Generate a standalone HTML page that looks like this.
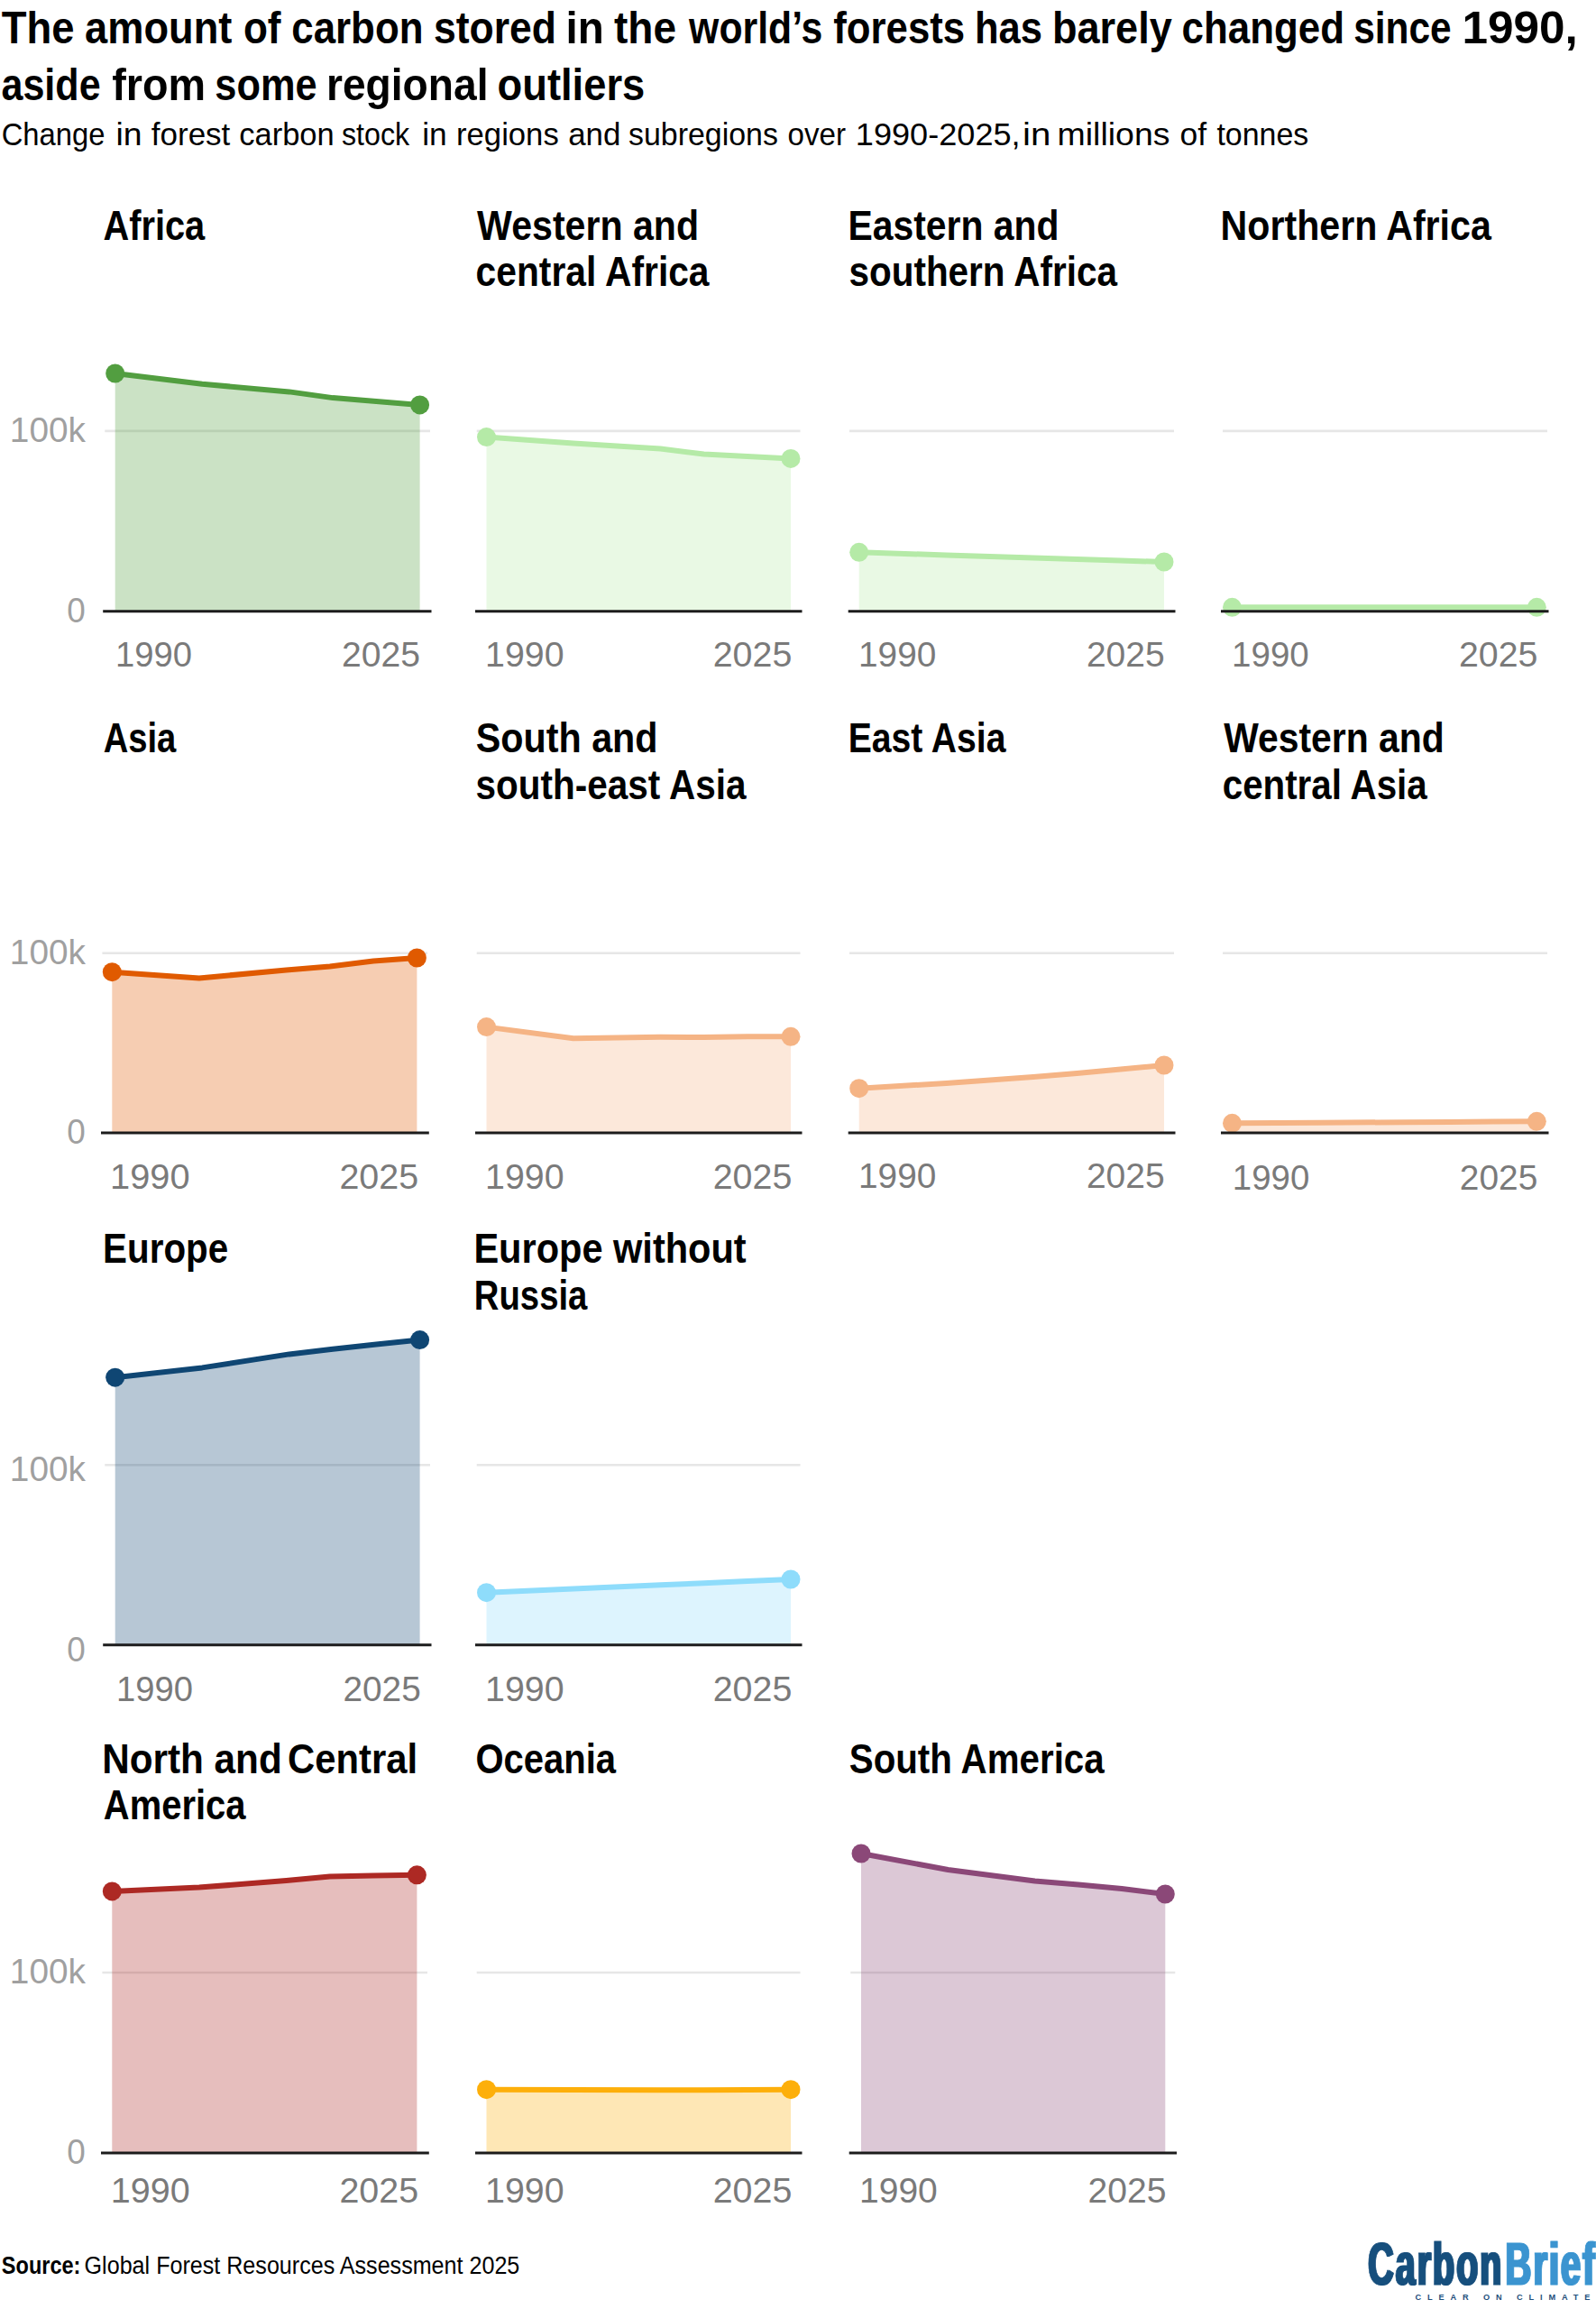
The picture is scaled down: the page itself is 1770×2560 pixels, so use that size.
<!DOCTYPE html>
<html lang="en"><head><meta charset="utf-8"><title>Forest carbon stock by region, 1990-2025</title>
<style>html,body{margin:0;padding:0;background:#fff}svg{display:block}text{font-family:"Liberation Sans", Arial, sans-serif;white-space:pre}</style></head><body>
<svg width="1770" height="2560" viewBox="0 0 1770 2560">
<rect width="1770" height="2560" fill="#fff"/>
<g>
<line x1="116.3" x2="477.0" y1="477.9" y2="477.9" stroke="#e6e6e6" stroke-width="2.6"/>
<path d="M127.7,414.0 L224.2,425.8 L320.8,434.4 L369.1,441.1 L417.3,445.1 L465.6,448.9 L465.6,677.8 L127.7,677.8 Z" fill="#529e40" fill-opacity="0.3"/>
<path d="M127.7,414.0 L224.2,425.8 L320.8,434.4 L369.1,441.1 L417.3,445.1 L465.6,448.9" fill="none" stroke="#529e40" stroke-width="6" stroke-linejoin="round" stroke-linecap="round"/>
<circle cx="127.7" cy="414.0" r="10.5" fill="#529e40"/>
<circle cx="465.6" cy="448.9" r="10.5" fill="#529e40"/>
<line x1="114.2" x2="478.5" y1="677.8" y2="677.8" stroke="#1c1c1c" stroke-width="3"/>
</g>
<g>
<line x1="528.7" x2="887.5" y1="477.9" y2="477.9" stroke="#e6e6e6" stroke-width="2.6"/>
<path d="M539.5,484.6 L635.9,491.4 L732.4,497.6 L780.6,503.4 L828.8,506.1 L877.0,508.4 L877.0,677.8 L539.5,677.8 Z" fill="#b5eaa7" fill-opacity="0.3"/>
<path d="M539.5,484.6 L635.9,491.4 L732.4,497.6 L780.6,503.4 L828.8,506.1 L877.0,508.4" fill="none" stroke="#b5eaa7" stroke-width="6" stroke-linejoin="round" stroke-linecap="round"/>
<circle cx="539.5" cy="484.6" r="10.5" fill="#b5eaa7"/>
<circle cx="877.0" cy="508.4" r="10.5" fill="#b5eaa7"/>
<line x1="527.0" x2="889.5" y1="677.8" y2="677.8" stroke="#1c1c1c" stroke-width="3"/>
</g>
<g>
<line x1="942.0" x2="1302.0" y1="477.9" y2="477.9" stroke="#e6e6e6" stroke-width="2.6"/>
<path d="M952.7,612.3 L1049.4,615.4 L1146.0,618.4 L1194.3,619.9 L1242.7,621.5 L1291.0,623.0 L1291.0,677.8 L952.7,677.8 Z" fill="#b5eaa7" fill-opacity="0.3"/>
<path d="M952.7,612.3 L1049.4,615.4 L1146.0,618.4 L1194.3,619.9 L1242.7,621.5 L1291.0,623.0" fill="none" stroke="#b5eaa7" stroke-width="6" stroke-linejoin="round" stroke-linecap="round"/>
<circle cx="952.7" cy="612.3" r="10.5" fill="#b5eaa7"/>
<circle cx="1291.0" cy="623.0" r="10.5" fill="#b5eaa7"/>
<line x1="940.7" x2="1303.5" y1="677.8" y2="677.8" stroke="#1c1c1c" stroke-width="3"/>
</g>
<g>
<line x1="1356.0" x2="1716.0" y1="477.9" y2="477.9" stroke="#e6e6e6" stroke-width="2.6"/>
<path d="M1366.5,673.3 L1463.0,673.3 L1559.5,673.3 L1607.8,673.3 L1656.0,673.3 L1704.3,673.3 L1704.3,677.8 L1366.5,677.8 Z" fill="#b5eaa7" fill-opacity="0.3"/>
<path d="M1366.5,673.3 L1463.0,673.3 L1559.5,673.3 L1607.8,673.3 L1656.0,673.3 L1704.3,673.3" fill="none" stroke="#b5eaa7" stroke-width="6" stroke-linejoin="round" stroke-linecap="round"/>
<circle cx="1366.5" cy="673.3" r="10.5" fill="#b5eaa7"/>
<circle cx="1704.3" cy="673.3" r="10.5" fill="#b5eaa7"/>
<line x1="1354.0" x2="1717.5" y1="677.8" y2="677.8" stroke="#1c1c1c" stroke-width="3"/>
</g>
<g>
<line x1="113.4" x2="474.0" y1="1056.7" y2="1056.7" stroke="#e6e6e6" stroke-width="2.6"/>
<path d="M124.3,1077.7 L220.9,1084.4 L317.5,1075.6 L365.8,1071.4 L414.1,1065.6 L462.4,1062.0 L462.4,1255.9 L124.3,1255.9 Z" fill="#e05a00" fill-opacity="0.3"/>
<path d="M124.3,1077.7 L220.9,1084.4 L317.5,1075.6 L365.8,1071.4 L414.1,1065.6 L462.4,1062.0" fill="none" stroke="#e05a00" stroke-width="6" stroke-linejoin="round" stroke-linecap="round"/>
<circle cx="124.3" cy="1077.7" r="10.5" fill="#e05a00"/>
<circle cx="462.4" cy="1062.0" r="10.5" fill="#e05a00"/>
<line x1="112.0" x2="475.8" y1="1255.9" y2="1255.9" stroke="#1c1c1c" stroke-width="3"/>
</g>
<g>
<line x1="528.7" x2="887.5" y1="1056.7" y2="1056.7" stroke="#e6e6e6" stroke-width="2.6"/>
<path d="M539.5,1138.6 L635.9,1151.2 L732.4,1149.7 L780.6,1150.0 L828.8,1149.2 L877.0,1149.3 L877.0,1255.9 L539.5,1255.9 Z" fill="#f5b485" fill-opacity="0.3"/>
<path d="M539.5,1138.6 L635.9,1151.2 L732.4,1149.7 L780.6,1150.0 L828.8,1149.2 L877.0,1149.3" fill="none" stroke="#f5b485" stroke-width="6" stroke-linejoin="round" stroke-linecap="round"/>
<circle cx="539.5" cy="1138.6" r="10.5" fill="#f5b485"/>
<circle cx="877.0" cy="1149.3" r="10.5" fill="#f5b485"/>
<line x1="527.0" x2="889.5" y1="1255.9" y2="1255.9" stroke="#1c1c1c" stroke-width="3"/>
</g>
<g>
<line x1="942.0" x2="1302.0" y1="1056.7" y2="1056.7" stroke="#e6e6e6" stroke-width="2.6"/>
<path d="M952.7,1206.7 L1049.4,1201.0 L1146.0,1194.0 L1194.3,1190.0 L1242.7,1185.5 L1291.0,1181.0 L1291.0,1255.9 L952.7,1255.9 Z" fill="#f5b485" fill-opacity="0.3"/>
<path d="M952.7,1206.7 L1049.4,1201.0 L1146.0,1194.0 L1194.3,1190.0 L1242.7,1185.5 L1291.0,1181.0" fill="none" stroke="#f5b485" stroke-width="6" stroke-linejoin="round" stroke-linecap="round"/>
<circle cx="952.7" cy="1206.7" r="10.5" fill="#f5b485"/>
<circle cx="1291.0" cy="1181.0" r="10.5" fill="#f5b485"/>
<line x1="940.7" x2="1303.5" y1="1255.9" y2="1255.9" stroke="#1c1c1c" stroke-width="3"/>
</g>
<g>
<line x1="1356.0" x2="1716.0" y1="1056.7" y2="1056.7" stroke="#e6e6e6" stroke-width="2.6"/>
<path d="M1366.5,1245.3 L1463.0,1244.7 L1559.5,1244.2 L1607.8,1243.9 L1656.0,1243.6 L1704.3,1243.3 L1704.3,1255.9 L1366.5,1255.9 Z" fill="#f5b485" fill-opacity="0.3"/>
<path d="M1366.5,1245.3 L1463.0,1244.7 L1559.5,1244.2 L1607.8,1243.9 L1656.0,1243.6 L1704.3,1243.3" fill="none" stroke="#f5b485" stroke-width="6" stroke-linejoin="round" stroke-linecap="round"/>
<circle cx="1366.5" cy="1245.3" r="10.5" fill="#f5b485"/>
<circle cx="1704.3" cy="1243.3" r="10.5" fill="#f5b485"/>
<line x1="1354.0" x2="1717.5" y1="1255.9" y2="1255.9" stroke="#1c1c1c" stroke-width="3"/>
</g>
<g>
<line x1="116.3" x2="477.0" y1="1624.2" y2="1624.2" stroke="#e6e6e6" stroke-width="2.6"/>
<path d="M127.7,1527.2 L224.2,1516.4 L320.8,1501.4 L369.1,1495.8 L417.3,1490.6 L465.6,1485.6 L465.6,1823.8 L127.7,1823.8 Z" fill="#0f4673" fill-opacity="0.3"/>
<path d="M127.7,1527.2 L224.2,1516.4 L320.8,1501.4 L369.1,1495.8 L417.3,1490.6 L465.6,1485.6" fill="none" stroke="#0f4673" stroke-width="6" stroke-linejoin="round" stroke-linecap="round"/>
<circle cx="127.7" cy="1527.2" r="10.5" fill="#0f4673"/>
<circle cx="465.6" cy="1485.6" r="10.5" fill="#0f4673"/>
<line x1="114.2" x2="478.5" y1="1823.8" y2="1823.8" stroke="#1c1c1c" stroke-width="3"/>
</g>
<g>
<line x1="528.7" x2="887.5" y1="1624.2" y2="1624.2" stroke="#e6e6e6" stroke-width="2.6"/>
<path d="M539.5,1765.7 L635.9,1761.5 L732.4,1757.3 L780.6,1755.2 L828.8,1753.1 L877.0,1751.0 L877.0,1823.8 L539.5,1823.8 Z" fill="#8edcfb" fill-opacity="0.3"/>
<path d="M539.5,1765.7 L635.9,1761.5 L732.4,1757.3 L780.6,1755.2 L828.8,1753.1 L877.0,1751.0" fill="none" stroke="#8edcfb" stroke-width="6" stroke-linejoin="round" stroke-linecap="round"/>
<circle cx="539.5" cy="1765.7" r="10.5" fill="#8edcfb"/>
<circle cx="877.0" cy="1751.0" r="10.5" fill="#8edcfb"/>
<line x1="527.0" x2="889.5" y1="1823.8" y2="1823.8" stroke="#1c1c1c" stroke-width="3"/>
</g>
<g>
<line x1="113.4" x2="474.0" y1="2187.0" y2="2187.0" stroke="#e6e6e6" stroke-width="2.6"/>
<path d="M124.3,2096.9 L220.9,2092.6 L317.5,2085.1 L365.8,2080.6 L414.1,2079.6 L462.4,2078.8 L462.4,2387.1 L124.3,2387.1 Z" fill="#ad2924" fill-opacity="0.3"/>
<path d="M124.3,2096.9 L220.9,2092.6 L317.5,2085.1 L365.8,2080.6 L414.1,2079.6 L462.4,2078.8" fill="none" stroke="#ad2924" stroke-width="6" stroke-linejoin="round" stroke-linecap="round"/>
<circle cx="124.3" cy="2096.9" r="10.5" fill="#ad2924"/>
<circle cx="462.4" cy="2078.8" r="10.5" fill="#ad2924"/>
<line x1="112.0" x2="475.8" y1="2387.1" y2="2387.1" stroke="#1c1c1c" stroke-width="3"/>
</g>
<g>
<line x1="528.7" x2="887.5" y1="2187.0" y2="2187.0" stroke="#e6e6e6" stroke-width="2.6"/>
<path d="M539.5,2316.7 L635.9,2317.0 L732.4,2317.3 L780.6,2317.3 L828.8,2317.0 L877.0,2316.7 L877.0,2387.1 L539.5,2387.1 Z" fill="#fdaf0a" fill-opacity="0.3"/>
<path d="M539.5,2316.7 L635.9,2317.0 L732.4,2317.3 L780.6,2317.3 L828.8,2317.0 L877.0,2316.7" fill="none" stroke="#fdaf0a" stroke-width="6" stroke-linejoin="round" stroke-linecap="round"/>
<circle cx="539.5" cy="2316.7" r="10.5" fill="#fdaf0a"/>
<circle cx="877.0" cy="2316.7" r="10.5" fill="#fdaf0a"/>
<line x1="527.0" x2="889.5" y1="2387.1" y2="2387.1" stroke="#1c1c1c" stroke-width="3"/>
</g>
<g>
<line x1="943.3" x2="1303.3" y1="2187.0" y2="2187.0" stroke="#e6e6e6" stroke-width="2.6"/>
<path d="M955.0,2055.0 L1051.4,2073.0 L1147.7,2085.5 L1195.9,2089.5 L1244.1,2094.0 L1292.3,2100.0 L1292.3,2387.1 L955.0,2387.1 Z" fill="#8b4878" fill-opacity="0.3"/>
<path d="M955.0,2055.0 L1051.4,2073.0 L1147.7,2085.5 L1195.9,2089.5 L1244.1,2094.0 L1292.3,2100.0" fill="none" stroke="#8b4878" stroke-width="6" stroke-linejoin="round" stroke-linecap="round"/>
<circle cx="955.0" cy="2055.0" r="10.5" fill="#8b4878"/>
<circle cx="1292.3" cy="2100.0" r="10.5" fill="#8b4878"/>
<line x1="941.7" x2="1305.0" y1="2387.1" y2="2387.1" stroke="#1c1c1c" stroke-width="3"/>
</g>
<text id="t1" y="47.7" font-size="50" font-weight="bold" fill="#000"><tspan id="t1_0" x="1.78" textLength="80.83" lengthAdjust="spacingAndGlyphs">The</tspan> <tspan id="t1_1" x="94.08" textLength="163.22" lengthAdjust="spacingAndGlyphs">amount</tspan> <tspan id="t1_2" x="269.93" textLength="41.62" lengthAdjust="spacingAndGlyphs">of</tspan> <tspan id="t1_3" x="323.26" textLength="146.27" lengthAdjust="spacingAndGlyphs">carbon</tspan> <tspan id="t1_4" x="480.96" textLength="136.06" lengthAdjust="spacingAndGlyphs">stored</tspan> <tspan id="t1_5" x="627.50" textLength="42.23" lengthAdjust="spacingAndGlyphs">in</tspan> <tspan id="t1_6" x="681.03" textLength="69.10" lengthAdjust="spacingAndGlyphs">the</tspan> <tspan id="t1_7" x="764.12" textLength="148.17" lengthAdjust="spacingAndGlyphs">world’s</tspan> <tspan id="t1_8" x="924.25" textLength="145.91" lengthAdjust="spacingAndGlyphs">forests</tspan> <tspan id="t1_9" x="1081.03" textLength="74.95" lengthAdjust="spacingAndGlyphs">has</tspan> <tspan id="t1_10" x="1166.92" textLength="132.89" lengthAdjust="spacingAndGlyphs">barely</tspan> <tspan id="t1_11" x="1310.57" textLength="180.42" lengthAdjust="spacingAndGlyphs">changed</tspan> <tspan id="t1_12" x="1501.14" textLength="108.52" lengthAdjust="spacingAndGlyphs">since</tspan> <tspan id="t1_13" x="1621.47" textLength="128.27" lengthAdjust="spacingAndGlyphs">1990,</tspan></text>
<text id="t2" y="110.8" font-size="50" font-weight="bold" fill="#000"><tspan id="t2_0" x="1.44" textLength="110.18" lengthAdjust="spacingAndGlyphs">aside</tspan> <tspan id="t2_1" x="124.15" textLength="103.84" lengthAdjust="spacingAndGlyphs">from</tspan> <tspan id="t2_2" x="238.33" textLength="113.31" lengthAdjust="spacingAndGlyphs">some</tspan> <tspan id="t2_3" x="361.98" textLength="179.50" lengthAdjust="spacingAndGlyphs">regional</tspan> <tspan id="t2_4" x="551.55" textLength="163.69" lengthAdjust="spacingAndGlyphs">outliers</tspan></text>
<text id="sub" y="160.8" font-size="35" font-weight="normal" fill="#000"><tspan id="sub_0" x="1.73" textLength="114.71" lengthAdjust="spacingAndGlyphs">Change</tspan> <tspan id="sub_1" x="128.48" textLength="29.11" lengthAdjust="spacingAndGlyphs">in</tspan> <tspan id="sub_2" x="167.78" textLength="87.59" lengthAdjust="spacingAndGlyphs">forest</tspan> <tspan id="sub_3" x="265.16" textLength="105.60" lengthAdjust="spacingAndGlyphs">carbon</tspan> <tspan id="sub_4" x="378.93" textLength="75.26" lengthAdjust="spacingAndGlyphs">stock</tspan> <tspan id="sub_5" x="468.15" textLength="27.51" lengthAdjust="spacingAndGlyphs">in</tspan> <tspan id="sub_6" x="506.06" textLength="113.67" lengthAdjust="spacingAndGlyphs">regions</tspan> <tspan id="sub_7" x="630.20" textLength="58.19" lengthAdjust="spacingAndGlyphs">and</tspan> <tspan id="sub_8" x="697.00" textLength="165.89" lengthAdjust="spacingAndGlyphs">subregions</tspan> <tspan id="sub_9" x="873.56" textLength="64.41" lengthAdjust="spacingAndGlyphs">over</tspan> <tspan id="sub_10" x="948.86" textLength="182.73" lengthAdjust="spacingAndGlyphs">1990-2025,</tspan> <tspan id="sub_11" x="1134.05" textLength="31.36" lengthAdjust="spacingAndGlyphs">in</tspan> <tspan id="sub_12" x="1172.59" textLength="124.93" lengthAdjust="spacingAndGlyphs">millions</tspan> <tspan id="sub_13" x="1308.55" textLength="29.61" lengthAdjust="spacingAndGlyphs">of</tspan> <tspan id="sub_14" x="1349.39" textLength="101.89" lengthAdjust="spacingAndGlyphs">tonnes</tspan></text>
<text id="y100_0" x="10.88" y="490.2" font-size="38" font-weight="normal" fill="#a0a0a0" textLength="84.12" lengthAdjust="spacingAndGlyphs">100k</text>
<text id="y0_0" x="74.14" y="690.0999999999999" font-size="38" font-weight="normal" fill="#a0a0a0" textLength="20.53" lengthAdjust="spacingAndGlyphs">0</text>
<text id="y100_1" x="10.88" y="1069.0" font-size="38" font-weight="normal" fill="#a0a0a0" textLength="84.12" lengthAdjust="spacingAndGlyphs">100k</text>
<text id="y0_1" x="74.14" y="1268.2" font-size="38" font-weight="normal" fill="#a0a0a0" textLength="20.53" lengthAdjust="spacingAndGlyphs">0</text>
<text id="y100_2" x="10.88" y="1642.1000000000001" font-size="38" font-weight="normal" fill="#a0a0a0" textLength="84.12" lengthAdjust="spacingAndGlyphs">100k</text>
<text id="y0_2" x="74.14" y="1841.7" font-size="38" font-weight="normal" fill="#a0a0a0" textLength="20.53" lengthAdjust="spacingAndGlyphs">0</text>
<text id="y100_3" x="10.88" y="2198.9" font-size="38" font-weight="normal" fill="#a0a0a0" textLength="84.12" lengthAdjust="spacingAndGlyphs">100k</text>
<text id="y0_3" x="74.14" y="2399.0" font-size="38" font-weight="normal" fill="#a0a0a0" textLength="20.53" lengthAdjust="spacingAndGlyphs">0</text>
<text id="lab0_0" x="114.47" y="265.6" font-size="46" font-weight="bold" fill="#000" textLength="112.78" lengthAdjust="spacingAndGlyphs">Africa</text>
<text id="tkl0" x="128.09" y="738.5" font-size="38" font-weight="normal" fill="#7a7a7a" textLength="85.05" lengthAdjust="spacingAndGlyphs">1990</text>
<text id="tkr0" x="378.91" y="738.5" font-size="38" font-weight="normal" fill="#7a7a7a" textLength="87.14" lengthAdjust="spacingAndGlyphs">2025</text>
<text id="lab1_0" x="529.09" y="265.6" font-size="46" font-weight="bold" fill="#000" textLength="246.01" lengthAdjust="spacingAndGlyphs">Western and</text>
<text id="lab1_1" x="527.62" y="317.0" font-size="46" font-weight="bold" fill="#000" textLength="258.91" lengthAdjust="spacingAndGlyphs">central Africa</text>
<text id="tkl1" x="538.01" y="738.5" font-size="38" font-weight="normal" fill="#7a7a7a" textLength="87.56" lengthAdjust="spacingAndGlyphs">1990</text>
<text id="tkr1" x="790.69" y="738.5" font-size="38" font-weight="normal" fill="#7a7a7a" textLength="87.71" lengthAdjust="spacingAndGlyphs">2025</text>
<text id="lab2_0" x="940.52" y="265.6" font-size="46" font-weight="bold" fill="#000" textLength="233.91" lengthAdjust="spacingAndGlyphs">Eastern and</text>
<text id="lab2_1" x="941.47" y="317.0" font-size="46" font-weight="bold" fill="#000" textLength="297.55" lengthAdjust="spacingAndGlyphs">southern Africa</text>
<text id="tkl2" x="952.05" y="738.5" font-size="38" font-weight="normal" fill="#7a7a7a" textLength="86.25" lengthAdjust="spacingAndGlyphs">1990</text>
<text id="tkr2" x="1204.91" y="738.5" font-size="38" font-weight="normal" fill="#7a7a7a" textLength="86.86" lengthAdjust="spacingAndGlyphs">2025</text>
<text id="lab3_0" x="1353.59" y="265.6" font-size="46" font-weight="bold" fill="#000" textLength="300.22" lengthAdjust="spacingAndGlyphs">Northern Africa</text>
<text id="tkl3" x="1366.07" y="738.5" font-size="38" font-weight="normal" fill="#7a7a7a" textLength="85.69" lengthAdjust="spacingAndGlyphs">1990</text>
<text id="tkr3" x="1617.91" y="738.5" font-size="38" font-weight="normal" fill="#7a7a7a" textLength="87.51" lengthAdjust="spacingAndGlyphs">2025</text>
<text id="lab4_0" x="114.65" y="834.0" font-size="46" font-weight="bold" fill="#000" textLength="80.69" lengthAdjust="spacingAndGlyphs">Asia</text>
<text id="tkl4" x="122.08" y="1318.2" font-size="38" font-weight="normal" fill="#7a7a7a" textLength="88.51" lengthAdjust="spacingAndGlyphs">1990</text>
<text id="tkr4" x="376.42" y="1318.2" font-size="38" font-weight="normal" fill="#7a7a7a" textLength="87.72" lengthAdjust="spacingAndGlyphs">2025</text>
<text id="lab5_0" x="527.80" y="834.0" font-size="46" font-weight="bold" fill="#000" textLength="201.73" lengthAdjust="spacingAndGlyphs">South and</text>
<text id="lab5_1" x="527.47" y="886.0" font-size="46" font-weight="bold" fill="#000" textLength="300.03" lengthAdjust="spacingAndGlyphs">south-east Asia</text>
<text id="tkl5" x="538.01" y="1318.2" font-size="38" font-weight="normal" fill="#7a7a7a" textLength="87.56" lengthAdjust="spacingAndGlyphs">1990</text>
<text id="tkr5" x="790.69" y="1318.2" font-size="38" font-weight="normal" fill="#7a7a7a" textLength="87.71" lengthAdjust="spacingAndGlyphs">2025</text>
<text id="lab6_0" x="940.71" y="834.0" font-size="46" font-weight="bold" fill="#000" textLength="174.69" lengthAdjust="spacingAndGlyphs">East Asia</text>
<text id="tkl6" x="952.05" y="1317.2" font-size="38" font-weight="normal" fill="#7a7a7a" textLength="86.25" lengthAdjust="spacingAndGlyphs">1990</text>
<text id="tkr6" x="1204.91" y="1317.2" font-size="38" font-weight="normal" fill="#7a7a7a" textLength="86.86" lengthAdjust="spacingAndGlyphs">2025</text>
<text id="lab7_0" x="1357.15" y="834.0" font-size="46" font-weight="bold" fill="#000" textLength="244.64" lengthAdjust="spacingAndGlyphs">Western and</text>
<text id="lab7_1" x="1355.73" y="886.0" font-size="46" font-weight="bold" fill="#000" textLength="227.02" lengthAdjust="spacingAndGlyphs">central Asia</text>
<text id="tkl7" x="1366.86" y="1318.6000000000001" font-size="38" font-weight="normal" fill="#7a7a7a" textLength="85.43" lengthAdjust="spacingAndGlyphs">1990</text>
<text id="tkr7" x="1618.86" y="1318.6000000000001" font-size="38" font-weight="normal" fill="#7a7a7a" textLength="86.44" lengthAdjust="spacingAndGlyphs">2025</text>
<text id="lab8_0" x="114.11" y="1400.0" font-size="46" font-weight="bold" fill="#000" textLength="139.03" lengthAdjust="spacingAndGlyphs">Europe</text>
<text id="tkl8" x="128.94" y="1886.2" font-size="38" font-weight="normal" fill="#7a7a7a" textLength="84.93" lengthAdjust="spacingAndGlyphs">1990</text>
<text id="tkr8" x="380.43" y="1886.2" font-size="38" font-weight="normal" fill="#7a7a7a" textLength="86.39" lengthAdjust="spacingAndGlyphs">2025</text>
<text id="lab9_0" x="525.42" y="1400.0" font-size="46" font-weight="bold" fill="#000" textLength="302.31" lengthAdjust="spacingAndGlyphs">Europe without</text>
<text id="lab9_1" x="525.82" y="1451.7" font-size="46" font-weight="bold" fill="#000" textLength="125.58" lengthAdjust="spacingAndGlyphs">Russia</text>
<text id="tkl9" x="538.01" y="1886.2" font-size="38" font-weight="normal" fill="#7a7a7a" textLength="87.56" lengthAdjust="spacingAndGlyphs">1990</text>
<text id="tkr9" x="790.69" y="1886.2" font-size="38" font-weight="normal" fill="#7a7a7a" textLength="87.71" lengthAdjust="spacingAndGlyphs">2025</text>
<text id="lab10_0" x="113.22" y="1966.0" font-size="46" font-weight="bold" fill="#000" textLength="199.52" lengthAdjust="spacingAndGlyphs">North and</text>
<text id="lab10_1" x="114.84" y="2017.3" font-size="46" font-weight="bold" fill="#000" textLength="157.70" lengthAdjust="spacingAndGlyphs">America</text>
<text id="lab10_2" x="319.05" y="1966.0" font-size="46" font-weight="bold" fill="#000" textLength="143.98" lengthAdjust="spacingAndGlyphs">Central</text>
<text id="tkl10" x="122.82" y="2441.7" font-size="38" font-weight="normal" fill="#7a7a7a" textLength="87.89" lengthAdjust="spacingAndGlyphs">1990</text>
<text id="tkr10" x="376.42" y="2441.7" font-size="38" font-weight="normal" fill="#7a7a7a" textLength="87.72" lengthAdjust="spacingAndGlyphs">2025</text>
<text id="lab11_0" x="527.50" y="1966.0" font-size="46" font-weight="bold" fill="#000" textLength="155.58" lengthAdjust="spacingAndGlyphs">Oceania</text>
<text id="tkl11" x="538.01" y="2441.7" font-size="38" font-weight="normal" fill="#7a7a7a" textLength="87.56" lengthAdjust="spacingAndGlyphs">1990</text>
<text id="tkr11" x="790.69" y="2441.7" font-size="38" font-weight="normal" fill="#7a7a7a" textLength="87.71" lengthAdjust="spacingAndGlyphs">2025</text>
<text id="lab12_0" x="941.75" y="1966.0" font-size="46" font-weight="bold" fill="#000" textLength="282.92" lengthAdjust="spacingAndGlyphs">South America</text>
<text id="tkl12" x="953.04" y="2441.7" font-size="38" font-weight="normal" fill="#7a7a7a" textLength="86.75" lengthAdjust="spacingAndGlyphs">1990</text>
<text id="tkr12" x="1206.42" y="2441.7" font-size="38" font-weight="normal" fill="#7a7a7a" textLength="87.05" lengthAdjust="spacingAndGlyphs">2025</text>
<text id="src_b" x="1.86" y="2520.8" font-size="27" font-weight="bold" fill="#000" textLength="87.49" lengthAdjust="spacingAndGlyphs">Source:</text>
<text id="src" x="93.60" y="2520.8" font-size="27" font-weight="normal" fill="#000" textLength="482.74" lengthAdjust="spacingAndGlyphs">Global Forest Resources Assessment 2025</text>
<g id="logo">
<defs><filter id="fat" x="-5%" y="-5%" width="110%" height="110%"><feMorphology operator="dilate" radius="1 0"/></filter></defs><g filter="url(#fat)"><text x="1517.3" y="2533.3" font-size="66" font-weight="bold" fill="#174f7d" stroke="#174f7d" stroke-width="1" letter-spacing="3.5" textLength="150" lengthAdjust="spacingAndGlyphs">Carbon</text>
<text x="1669.6" y="2533.3" font-size="66" font-weight="bold" fill="#3a94d0" stroke="#3a94d0" stroke-width="1" letter-spacing="3.5" textLength="101" lengthAdjust="spacingAndGlyphs">Brief</text>
</g><text id="lg3" x="1569.5" y="2550.2" font-size="9.2" font-weight="bold" fill="#1f4f7c" textLength="194" lengthAdjust="spacing">CLEAR ON CLIMATE</text>
</g>
</svg></body></html>
